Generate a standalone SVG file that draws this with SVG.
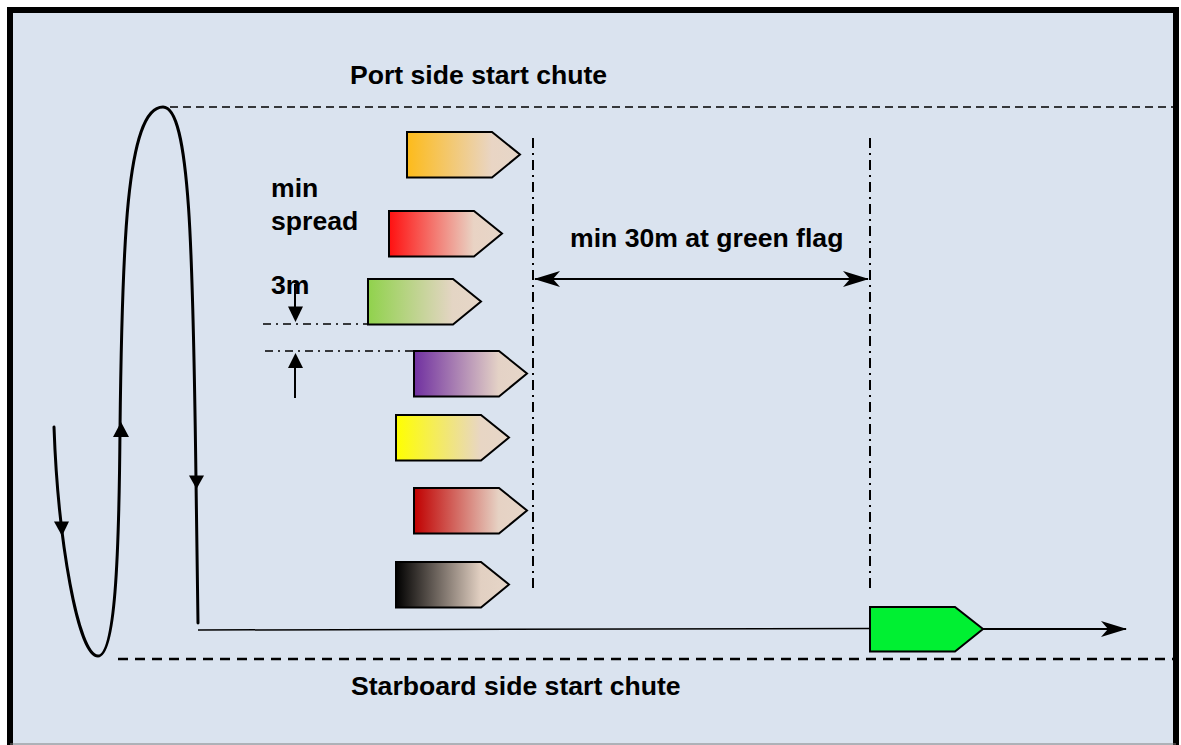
<svg xmlns="http://www.w3.org/2000/svg" width="1181" height="745" viewBox="0 0 1181 745">
<style>
.t{font-family:"Liberation Sans",Arial,sans-serif;font-weight:bold;font-size:26.6px;fill:#000}
.boat{stroke:#000;stroke-width:2;stroke-linejoin:miter}
.dd{fill:none;stroke:#000;stroke-width:2;stroke-dasharray:10 5 2 5}
.dh{fill:none;stroke:#000;stroke-width:1.3;stroke-dasharray:8 5 2 5}
.ln{fill:none;stroke:#000;stroke-width:3;stroke-linecap:round}
</style>
<defs>
<linearGradient id="gOr" x1="0" x2="1" y1="0" y2="0"><stop offset="0" stop-color="#fdbb1a"/><stop offset="0.75" stop-color="#e9d5c4"/><stop offset="1" stop-color="#e6d6c8"/></linearGradient>
<linearGradient id="gRd" x1="0" x2="1" y1="0" y2="0"><stop offset="0" stop-color="#ff1010"/><stop offset="0.75" stop-color="#e9d3c4"/><stop offset="1" stop-color="#e6d6c8"/></linearGradient>
<linearGradient id="gGr" x1="0" x2="1" y1="0" y2="0"><stop offset="0" stop-color="#90d24c"/><stop offset="0.75" stop-color="#e4d5c4"/><stop offset="1" stop-color="#e6d6c8"/></linearGradient>
<linearGradient id="gPu" x1="0" x2="1" y1="0" y2="0"><stop offset="0" stop-color="#7030a0"/><stop offset="0.75" stop-color="#e4d2c6"/><stop offset="1" stop-color="#e6d6c8"/></linearGradient>
<linearGradient id="gYe" x1="0" x2="1" y1="0" y2="0"><stop offset="0" stop-color="#ffff00"/><stop offset="0.75" stop-color="#e8d6c4"/><stop offset="1" stop-color="#e6d6c8"/></linearGradient>
<linearGradient id="gDr" x1="0" x2="1" y1="0" y2="0"><stop offset="0" stop-color="#c00000"/><stop offset="0.75" stop-color="#e6d2c4"/><stop offset="1" stop-color="#e6d6c8"/></linearGradient>
<linearGradient id="gBk" x1="0" x2="1" y1="0" y2="0"><stop offset="0" stop-color="#000000"/><stop offset="0.75" stop-color="#e2d0c2"/><stop offset="1" stop-color="#e6d6c8"/></linearGradient>
<path id="boatShape" d="M0,0 H85 L113,22.5 L85,45.5 H0 Z"/>
<marker id="stealth" viewBox="0 0 26 18" refX="25" refY="9" markerWidth="26" markerHeight="18" markerUnits="userSpaceOnUse" orient="auto-start-reverse">
<path d="M0,1 L26,9 L0,17 L7,9 Z" fill="#000"/>
</marker>
</defs>
<rect x="0" y="0" width="1181" height="745" fill="#ffffff"/>
<rect x="10" y="10" width="1166" height="760" fill="#dae3ef" stroke="#000" stroke-width="6"/>
<line x1="10" y1="744" x2="1176" y2="744" stroke="#808080" stroke-width="1"/>

<g id="port-chute">
<line x1="170" y1="107" x2="1173" y2="107" stroke="#000" stroke-width="1.6" stroke-dasharray="8 5"/>
<text class="t" x="350" y="84">Port side start chute</text>
</g>
<g id="starboard-chute">
<line x1="118" y1="659" x2="1173" y2="659" stroke="#000" stroke-width="2.5" stroke-dasharray="10 7"/>
<text class="t" x="351" y="695">Starboard side start chute</text>
</g>

<g id="boat-orange"><use href="#boatShape" class="boat" fill="url(#gOr)" x="407" y="132"/></g>
<g id="boat-red"><use href="#boatShape" class="boat" fill="url(#gRd)" x="389" y="211"/></g>
<g id="boat-green"><use href="#boatShape" class="boat" fill="url(#gGr)" x="368" y="279"/></g>
<g id="boat-purple"><use href="#boatShape" class="boat" fill="url(#gPu)" x="414" y="351"/></g>
<g id="boat-yellow"><use href="#boatShape" class="boat" fill="url(#gYe)" x="396" y="415"/></g>
<g id="boat-darkred"><use href="#boatShape" class="boat" fill="url(#gDr)" x="414" y="488"/></g>
<g id="boat-black"><use href="#boatShape" class="boat" fill="url(#gBk)" x="396" y="562"/></g>
<g id="boat-lead"><path d="M870,607 H955 L983,629 L955,651.5 H870 Z" class="boat" fill="#00f032"/></g>

<g id="spread-label">
<text class="t" x="271" y="197">min</text>
<text class="t" x="271" y="230">spread</text>
<text class="t" x="271" y="294">3m</text>
</g>
<g id="flag-label">
<text class="t" x="570" y="247">min 30m at green flag</text>
</g>

<g id="connectors">
<line class="dd" x1="533" y1="138" x2="533" y2="591"/>
<line class="dd" x1="870" y1="138" x2="870" y2="591"/>
<line x1="535" y1="279" x2="868" y2="279" stroke="#000" stroke-width="2" marker-start="url(#stealth)" marker-end="url(#stealth)"/>
<line class="dh" x1="263" y1="324" x2="368" y2="324"/>
<line class="dh" x1="265" y1="351" x2="414" y2="351"/>
<line x1="295" y1="284" x2="295" y2="310" stroke="#000" stroke-width="2"/>
<polygon points="288,306.5 303,306.5 295.5,322" fill="#000"/>
<line x1="295" y1="365" x2="295" y2="398" stroke="#000" stroke-width="2"/>
<polygon points="288,368 303,368 295.5,353" fill="#000"/>
<path class="ln" d="M54,427 C58,540 78,656 98,656 C115,656 119,560 120,430 C122,250 126,107 163,107 C190,107 193,250 196,480 L198,623"/>
<polygon points="54,521.5 69,521.5 62,536" fill="#000"/>
<polygon points="113,437 129,437 121,422" fill="#000"/>
<polygon points="189,475.5 204,475.5 196.5,489" fill="#000"/>
<line x1="198" y1="630" x2="870" y2="628.5" stroke="#000" stroke-width="1.5"/>
<line x1="983" y1="629" x2="1126" y2="629" stroke="#000" stroke-width="2" marker-end="url(#stealth)"/>
</g>
</svg>
